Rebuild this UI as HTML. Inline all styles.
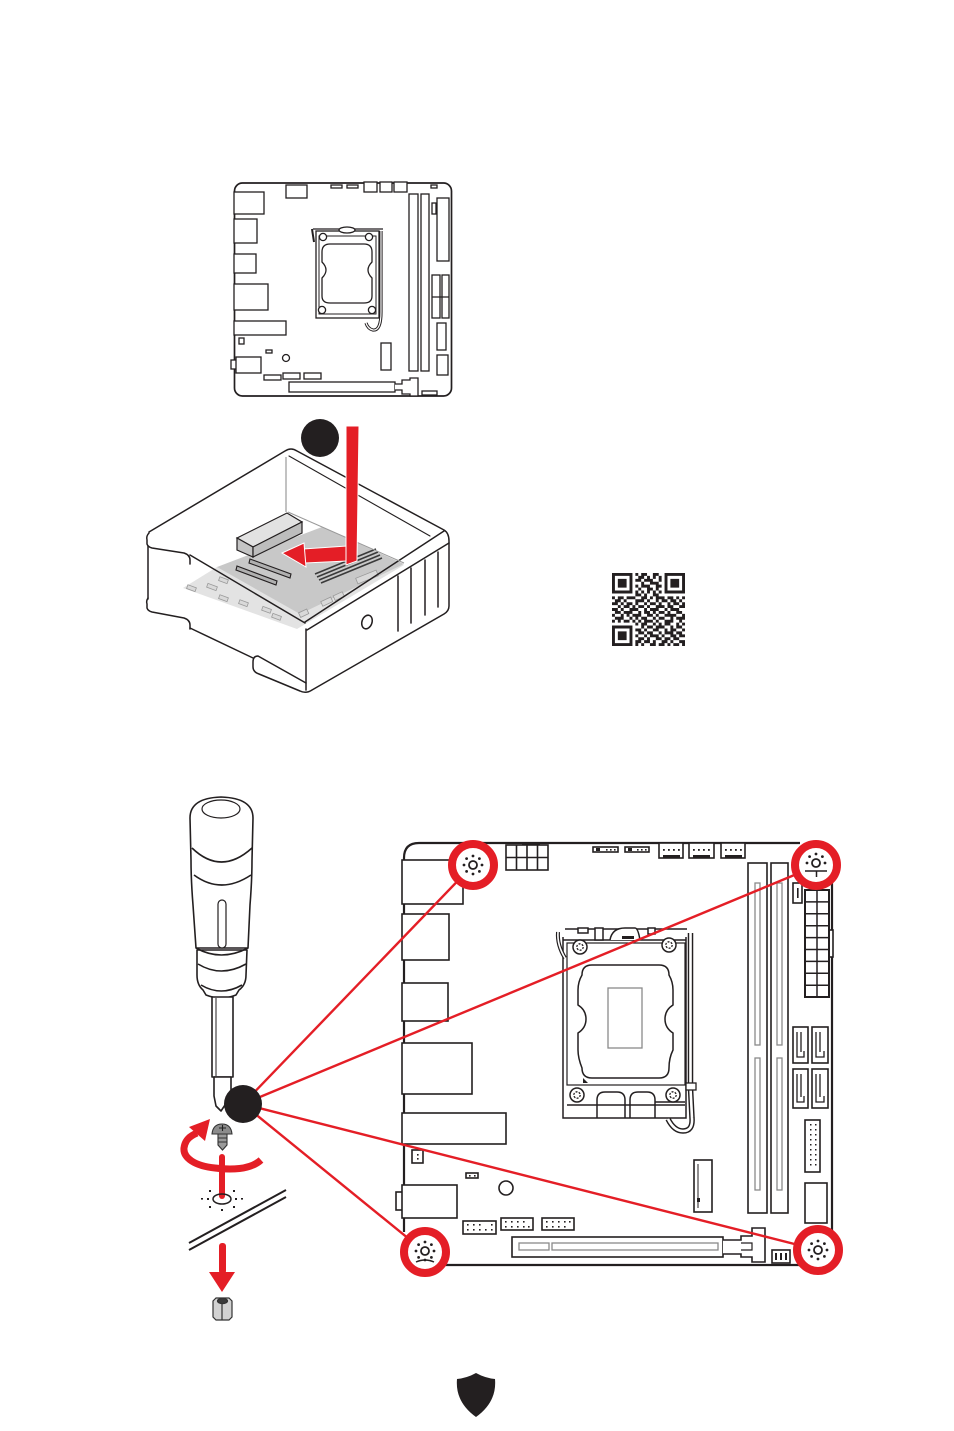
<!DOCTYPE html>
<html><head><meta charset="utf-8"><style>html,body{margin:0;padding:0;background:#fff}svg{display:block}</style></head>
<body>
<svg width="954" height="1431" viewBox="0 0 954 1431" xmlns="http://www.w3.org/2000/svg">
<rect width="954" height="1431" fill="#fff"/>

<!-- ============ TOP BOARD ============ -->
<g stroke="#231f20" stroke-width="1.3" fill="#fff">
<rect x="234.5" y="183" width="217" height="213" rx="8" stroke-width="1.7"/>
<rect x="234" y="192" width="30" height="22"/>
<rect x="234" y="219" width="23" height="24"/>
<rect x="234" y="254" width="22" height="19"/>
<rect x="234" y="284" width="34" height="26"/>
<rect x="234" y="321" width="52" height="14"/>
<rect x="239" y="338" width="5" height="6"/>
<rect x="231" y="360" width="7" height="9"/>
<rect x="236" y="357" width="25" height="16"/>
<rect x="266" y="350" width="6" height="3"/>
<circle cx="286" cy="358" r="3.5"/>
<rect x="264" y="375" width="17" height="5"/>
<rect x="283" y="373" width="17" height="6"/>
<rect x="304" y="373" width="17" height="6"/>
<rect x="289" y="382" width="106" height="10"/>
<path d="M395,384 H402 V380 H410 V378 H418 V396 H410 V394 H402 V390 H395"/>
<rect x="422" y="391" width="15" height="4"/>
<rect x="286" y="185" width="21" height="13"/>
<rect x="331" y="185" width="11" height="3"/>
<rect x="347" y="185" width="11" height="3"/>
<rect x="364" y="182" width="13" height="10"/>
<rect x="380" y="182" width="12" height="10"/>
<rect x="394" y="182" width="13" height="10"/>
<rect x="431" y="185" width="6" height="3"/>
<rect x="409" y="194" width="9" height="177"/>
<rect x="421" y="194" width="8" height="177"/>
<rect x="437" y="198" width="12" height="63"/>
<rect x="432" y="203" width="4" height="11"/>
<rect x="432" y="275" width="8" height="43"/>
<rect x="442" y="275" width="7" height="43"/>
<path d="M432,297 H449" fill="none"/>
<rect x="437" y="323" width="9" height="27"/>
<rect x="437" y="355" width="11" height="20"/>
<rect x="381" y="343" width="10" height="27"/>
<!-- socket -->
<path d="M313,229 H383" fill="none"/>
<rect x="316" y="231" width="63" height="87"/>
<rect x="319" y="236" width="57" height="78" stroke-width="1"/>
<ellipse cx="347" cy="230" rx="8" ry="3"/>
<path d="M330,244 L364,244 Q372,244 372,252 L372,262 Q368,266 368,270 Q368,274 372,278 L372,296 Q372,303 364,303 L330,303 Q322,303 322,296 L322,278 Q326,274 326,270 Q326,266 322,262 L322,252 Q322,244 330,244 Z"/>
<circle cx="323" cy="237" r="3.6"/><circle cx="369" cy="237" r="3.6"/>
<circle cx="322" cy="310" r="3.6"/><circle cx="372" cy="310" r="3.6"/>
<path d="M312,229 L314,242" fill="none" stroke-width="2"/>
<path d="M381,231 V312 Q381,331 373,330 Q368,329 366,323" fill="none" stroke-width="3.2"/>
<path d="M381,231 V312 Q381,331 373,330 Q368,329 366,323" fill="none" stroke="#fff" stroke-width="1.2"/>
</g>

<!-- ============ CASE ============ -->
<polygon points="183,588 297,629 404,565 217,567" fill="#e3e3e3"/>
<polygon points="217,567 300,614 404,564 322,527" fill="#c8c8c8"/>
<g fill="#d9d9d9" stroke="#999" stroke-width="0.8">
<rect x="187" y="586" width="9" height="4" transform="rotate(20 191 588)"/>
<rect x="207" y="585" width="10" height="4" transform="rotate(20 212 587)"/>
<rect x="219" y="578" width="9" height="4" transform="rotate(20 223 580)"/>
<rect x="219" y="596" width="9" height="4" transform="rotate(20 223 598)"/>
<rect x="239" y="601" width="9" height="4" transform="rotate(20 243 603)"/>
<rect x="262" y="608" width="9" height="4" transform="rotate(20 267 610)"/>
<rect x="272" y="615" width="9" height="4" transform="rotate(20 277 617)"/>
<rect x="299" y="611" width="9" height="5" transform="rotate(-25 303 613)"/>
<rect x="321" y="599" width="11" height="5" transform="rotate(-25 327 601)"/>
<rect x="334" y="594" width="10" height="5" transform="rotate(-25 338 597)"/>
<rect x="356" y="574" width="22" height="6" transform="rotate(-22 367 577)"/>
</g>
<g stroke="#231f20" stroke-width="1.1">
<polygon points="250,559 291,574 290,578 249,563" fill="#b0b0b0"/>
<polygon points="237,566 277,581 276,585 236,570" fill="#b0b0b0"/>
</g>
<g stroke="#3a3a3a" stroke-width="1.6">
<path d="M315,574 L376,549 M317,577 L378,552 M319,580 L380,555 M321,583 L382,558"/>
</g>
<!-- IO block -->
<g stroke="#231f20" stroke-width="1.2">
<polygon points="237,538 287,513 302,522 253,547" fill="#e2e2e2"/>
<polygon points="237,538 253,547 253,557 237,550" fill="#c4c4c4"/>
<polygon points="253,547 302,522 302,533 253,557" fill="#bdbdbd"/>
</g>
<g fill="none" stroke="#231f20" stroke-width="1.5" stroke-linejoin="round" stroke-linecap="round">
<path d="M149,532 L285,451 Q291,447 297,451 L444,530 Q449,533 449,541 V606 Q449,611 444,614 L312,690 Q306,694 300,691 L259,674 Q253,672 253,667 V662 Q253,656 258,656 L306,683"/>
<path d="M306,629 V690"/>
<path d="M449,543 L307,630"/>
<path d="M444,531 L305,622"/>
<path d="M305,623 L190,555"/>
<path d="M149,533 Q146,536 147,540 V544 Q148,547 152,548 L184,553 Q190,555 190,560 V564"/>
<path d="M148,546 V599"/>
<path d="M148,598 Q146,601 147,604 V608 Q148,611 152,612 L184,618 Q190,620 190,625 V629"/>
<path d="M190,628 L253,658"/>
<path d="M398,576 V631 M411,568 V623 M425,560 V615 M438,552 V607"/>
<ellipse cx="367" cy="622" rx="5" ry="7" transform="rotate(20 367 622)"/>
<path d="M289,456 L430,536" stroke-width="1.1"/>
</g>
<path d="M286,457 V512" stroke="#9a9a9a" stroke-width="1.2"/>
<path d="M288,512 L404,563" stroke="#9a9a9a" stroke-width="1"/>
<!-- red arrows -->
<g fill="#e41e26" stroke="#fff" stroke-width="1">
<polygon points="303,549 347,546 347,561 305,563"/>
<polygon points="282,553 304,543 306,567"/>
<polygon points="346,426 359,426 357,561 346,565"/>
</g>
<circle cx="320" cy="438" r="19" fill="#231f20"/>

<!-- ============ QR ============ -->
<g transform="translate(612,573) scale(2.92)" fill="#231f20">
<path d="M0 0h7v1H0zM8 0h1v1H8zM10 0h2v1h-2zM14 0h2v1h-2zM18 0h7v1h-7z
M0 1h1v1H0zM6 1h1v1H6zM9 1h2v1H9zM12 1h1v1h-1zM14 1h1v1h-1zM16 1h1v1h-1zM18 1h1v1h-1zM24 1h1v1h-1z
M0 2h1v1H0zM2 2h3v1H2zM6 2h1v1H6zM8 2h2v1H8zM11 2h3v1h-3zM16 2h1v1h-1zM18 2h1v1h-1zM20 2h3v1h-3zM24 2h1v1h-1z
M0 3h1v1H0zM2 3h3v1H2zM6 3h1v1H6zM10 3h1v1h-1zM13 3h3v1h-3zM18 3h1v1h-1zM20 3h3v1h-3zM24 3h1v1h-1z
M0 4h1v1H0zM2 4h3v1H2zM6 4h1v1H6zM8 4h1v1H8zM10 4h3v1h-3zM15 4h2v1h-2zM18 4h1v1h-1zM20 4h3v1h-3zM24 4h1v1h-1z
M0 5h1v1H0zM6 5h1v1H6zM9 5h1v1H9zM12 5h2v1h-2zM15 5h1v1h-1zM18 5h1v1h-1zM24 5h1v1h-1z
M0 6h7v1H0zM8 6h1v1H8zM10 6h1v1h-1zM12 6h1v1h-1zM14 6h1v1h-1zM16 6h1v1h-1zM18 6h7v1h-7z
M8 7h2v1H8zM11 7h1v1h-1zM14 7h2v1h-2z
M0 8h1v1H0zM2 8h2v1H2zM5 8h3v1H5zM10 8h2v1h-2zM13 8h1v1h-1zM15 8h3v1h-3zM19 8h2v1h-2zM22 8h1v1h-1zM24 8h1v1h-1z
M1 9h2v1H1zM4 9h1v1H4zM8 9h3v1H8zM12 9h1v1h-1zM15 9h1v1h-1zM17 9h2v1h-2zM20 9h2v1h-2zM23 9h1v1h-1z
M0 10h2v1H0zM3 10h1v1H3zM5 10h2v1H5zM8 10h1v1H8zM11 10h1v1h-1zM13 10h2v1h-2zM16 10h1v1h-1zM19 10h1v1h-1zM21 10h2v1h-2zM24 10h1v1h-1z
M2 11h1v1H2zM4 11h2v1H4zM7 11h1v1H7zM9 11h2v1H9zM12 11h1v1h-1zM15 11h3v1h-3zM19 11h2v1h-2zM23 11h2v1h-2z
M0 12h2v1H0zM3 12h1v1H3zM6 12h3v1H6zM11 12h1v1h-1zM13 12h3v1h-3zM18 12h1v1h-1zM20 12h3v1h-3z
M1 13h2v1H1zM4 13h3v1H4zM9 13h1v1H9zM11 13h2v1h-2zM14 13h1v1h-1zM16 13h2v1h-2zM19 13h1v1h-1zM22 13h2v1h-2z
M0 14h1v1H0zM3 14h1v1H3zM5 14h1v1H5zM7 14h3v1H7zM12 14h2v1h-2zM15 14h1v1h-1zM18 14h4v1h-4zM24 14h1v1h-1z
M1 15h3v1H1zM6 15h1v1H6zM8 15h1v1H8zM10 15h2v1h-2zM14 15h1v1h-1zM16 15h2v1h-2zM20 15h1v1h-1zM22 15h3v1h-3z
M0 16h1v1H0zM2 16h1v1H2zM4 16h2v1H4zM7 16h1v1H7zM9 16h1v1H9zM11 16h3v1h-3zM15 16h1v1h-1zM18 16h3v1h-3zM23 16h1v1h-1z
M8 17h1v1H8zM10 17h2v1h-2zM14 17h1v1h-1zM16 17h1v1h-1zM18 17h2v1h-2zM22 17h1v1h-1zM24 17h1v1h-1z
M0 18h7v1H0zM10 18h1v1h-1zM12 18h2v1h-2zM15 18h3v1h-3zM20 18h1v1h-1zM22 18h2v1h-2z
M0 19h1v1H0zM6 19h1v1H6zM8 19h2v1H8zM11 19h1v1h-1zM14 19h2v1h-2zM18 19h1v1h-1zM20 19h2v1h-2zM24 19h1v1h-1z
M0 20h1v1H0zM2 20h3v1H2zM6 20h1v1H6zM9 20h2v1H9zM12 20h2v1h-2zM16 20h1v1h-1zM18 20h3v1h-3zM22 20h2v1h-2z
M0 21h1v1H0zM2 21h3v1H2zM6 21h1v1H6zM8 21h1v1H8zM11 21h1v1h-1zM13 21h3v1h-3zM17 21h1v1h-1zM20 21h2v1h-2zM23 21h2v1h-2z
M0 22h1v1H0zM2 22h3v1H2zM6 22h1v1H6zM9 22h2v1H9zM12 22h1v1h-1zM15 22h2v1h-2zM18 22h2v1h-2zM21 22h2v1h-2z
M0 23h1v1H0zM6 23h1v1H6zM8 23h2v1H8zM11 23h2v1h-2zM14 23h1v1h-1zM17 23h2v1h-2zM20 23h1v1h-1zM23 23h2v1h-2z
M0 24h7v1H0zM8 24h1v1H8zM10 24h1v1h-1zM13 24h2v1h-2zM16 24h2v1h-2zM19 24h1v1h-1zM21 24h2v1h-2zM24 24h1v1h-1z"/>
</g>

<!-- ============ BOTTOM BOARD ============ -->
<g stroke="#231f20" stroke-width="1.6" fill="#fff">
<path d="M404,1232 V858 Q404,843 419,843 H800 M832,878 V1232 M440,1265 H800" fill="none" stroke-width="2.2"/>
<rect x="402" y="860" width="61" height="44"/>
<rect x="402" y="914" width="47" height="46"/>
<rect x="402" y="983" width="46" height="38"/>
<rect x="402" y="1043" width="70" height="51"/>
<rect x="402" y="1113" width="104" height="31"/>
<rect x="412" y="1150" width="11" height="13"/>
<rect x="466" y="1173" width="12" height="5"/>
<circle cx="506" cy="1188" r="7"/>
<rect x="396" y="1192" width="8" height="18"/>
<rect x="402" y="1185" width="55" height="33"/>
<rect x="463" y="1221" width="33" height="13"/>
<rect x="501" y="1218" width="32" height="12"/>
<rect x="542" y="1218" width="32" height="12"/>
<rect x="512" y="1237" width="211" height="20"/>
<path d="M723,1240 H741 V1236 H752 V1228 H765 V1262 H752 V1257 H741 V1254 H723" />
<path d="M741,1243 H752 V1250 H741" fill="none" stroke-width="1.2"/>
<rect x="772" y="1250" width="18" height="13"/>
<rect x="506" y="845" width="42" height="25"/>
<path d="M516.5,845 V870 M527,845 V870 M537.5,845 V870 M506,857.5 H548" fill="none"/>
<rect x="593" y="847" width="25" height="5"/>
<rect x="625" y="847" width="24" height="5"/>
<rect x="659" y="843" width="24" height="15"/>
<rect x="689" y="843" width="25" height="15"/>
<rect x="721" y="843" width="24" height="15"/>
<rect x="748" y="863" width="19" height="350"/>
<rect x="771" y="863" width="17" height="350"/>
<rect x="793" y="883" width="9" height="20"/>
<rect x="829" y="930" width="4" height="27"/>
<rect x="805" y="890" width="24" height="107" stroke-width="2"/>
<path d="M817,890 V997 M805,901.9 H829 M805,913.8 H829 M805,925.7 H829 M805,937.6 H829 M805,949.5 H829 M805,961.4 H829 M805,973.3 H829 M805,985.2 H829" fill="none" stroke-width="1.5"/>
<rect x="793" y="1027" width="15" height="36"/>
<rect x="812" y="1027" width="16" height="36"/>
<rect x="793" y="1069" width="15" height="39"/>
<rect x="812" y="1069" width="16" height="39"/>
<path d="M797,1032 V1057 H804 V1051 M801,1032 V1052 M816,1032 V1057 H824 V1051 M820,1032 V1052 M797,1074 V1102 H804 V1096 M801,1074 V1097 M816,1074 V1102 H824 V1096 M820,1074 V1097" fill="none" stroke-width="1.3"/>
<rect x="805" y="1120" width="15" height="52"/>
<rect x="805" y="1183" width="22" height="40"/>
<rect x="694" y="1160" width="18" height="52"/>
<path d="M698,1164 V1208" fill="none" stroke-width="1"/>
</g>
<g fill="none" stroke="#8a8a8a" stroke-width="1.3">
<rect x="519" y="1243" width="30" height="7"/>
<rect x="552" y="1243" width="166" height="7"/>
<rect x="755" y="883" width="5" height="162"/>
<rect x="755" y="1058" width="5" height="132"/>
<rect x="777" y="883" width="5" height="162"/>
<rect x="777" y="1058" width="5" height="132"/>
<rect x="608" y="988" width="34" height="60"/>
</g>
<!-- header pins / dots -->
<g fill="#231f20">
<rect x="596" y="848" width="4" height="3"/><rect x="606" y="849" width="1.6" height="1.6"/><rect x="610" y="849" width="1.6" height="1.6"/><rect x="614" y="849" width="1.6" height="1.6"/>
<rect x="628" y="848" width="4" height="3"/><rect x="637" y="849" width="1.6" height="1.6"/><rect x="641" y="849" width="1.6" height="1.6"/><rect x="645" y="849" width="1.6" height="1.6"/>
<rect x="663" y="849" width="1.8" height="1.8"/><rect x="668" y="849" width="1.8" height="1.8"/><rect x="673" y="849" width="1.8" height="1.8"/><rect x="678" y="849" width="1.8" height="1.8"/><rect x="663" y="855" width="17" height="3"/>
<rect x="693" y="849" width="1.8" height="1.8"/><rect x="698" y="849" width="1.8" height="1.8"/><rect x="703" y="849" width="1.8" height="1.8"/><rect x="708" y="849" width="1.8" height="1.8"/><rect x="693" y="855" width="17" height="3"/>
<rect x="725" y="849" width="1.8" height="1.8"/><rect x="730" y="849" width="1.8" height="1.8"/><rect x="735" y="849" width="1.8" height="1.8"/><rect x="740" y="849" width="1.8" height="1.8"/><rect x="725" y="855" width="17" height="3"/>
<rect x="417" y="1154" width="1.6" height="1.6"/><rect x="417" y="1158" width="1.6" height="1.6"/>
<rect x="469" y="1175" width="1.6" height="1.6"/><rect x="474" y="1175" width="1.6" height="1.6"/>
<rect x="467" y="1224" width="1.6" height="1.6"/><rect x="467" y="1229" width="1.6" height="1.6"/><rect x="473" y="1224" width="1.6" height="1.6"/><rect x="473" y="1229" width="1.6" height="1.6"/><rect x="479" y="1224" width="1.6" height="1.6"/><rect x="479" y="1229" width="1.6" height="1.6"/><rect x="485" y="1229" width="1.6" height="1.6"/><rect x="491" y="1224" width="1.6" height="1.6"/><rect x="491" y="1229" width="1.6" height="1.6"/>
<rect x="505" y="1221" width="1.6" height="1.6"/><rect x="505" y="1226" width="1.6" height="1.6"/><rect x="511" y="1221" width="1.6" height="1.6"/><rect x="511" y="1226" width="1.6" height="1.6"/><rect x="517" y="1221" width="1.6" height="1.6"/><rect x="517" y="1226" width="1.6" height="1.6"/><rect x="523" y="1221" width="1.6" height="1.6"/><rect x="523" y="1226" width="1.6" height="1.6"/><rect x="528" y="1226" width="1.6" height="1.6"/>
<rect x="546" y="1221" width="1.6" height="1.6"/><rect x="546" y="1226" width="1.6" height="1.6"/><rect x="552" y="1221" width="1.6" height="1.6"/><rect x="552" y="1226" width="1.6" height="1.6"/><rect x="558" y="1221" width="1.6" height="1.6"/><rect x="558" y="1226" width="1.6" height="1.6"/><rect x="564" y="1221" width="1.6" height="1.6"/><rect x="564" y="1226" width="1.6" height="1.6"/><rect x="569" y="1221" width="1.6" height="1.6"/>
<rect x="775" y="1253" width="2" height="7"/><rect x="780" y="1253" width="2" height="7"/><rect x="785" y="1253" width="2" height="7"/>
<rect x="810" y="1124" width="1.5" height="1.5"/><rect x="810" y="1129" width="1.5" height="1.5"/><rect x="810" y="1134" width="1.5" height="1.5"/><rect x="810" y="1139" width="1.5" height="1.5"/><rect x="810" y="1144" width="1.5" height="1.5"/><rect x="810" y="1149" width="1.5" height="1.5"/><rect x="810" y="1154" width="1.5" height="1.5"/><rect x="810" y="1159" width="1.5" height="1.5"/><rect x="810" y="1164" width="1.5" height="1.5"/>
<rect x="815" y="1124" width="1.5" height="1.5"/><rect x="815" y="1129" width="1.5" height="1.5"/><rect x="815" y="1134" width="1.5" height="1.5"/><rect x="815" y="1139" width="1.5" height="1.5"/><rect x="815" y="1144" width="1.5" height="1.5"/><rect x="815" y="1149" width="1.5" height="1.5"/><rect x="815" y="1154" width="1.5" height="1.5"/><rect x="815" y="1159" width="1.5" height="1.5"/><rect x="815" y="1164" width="1.5" height="1.5"/>
<rect x="797" y="888" width="1.6" height="10"/>
<rect x="697" y="1198" width="3" height="4"/>
<rect x="522" y="842" width="18" height="3"/>
</g>
<!-- CPU socket -->
<g stroke="#231f20" stroke-width="1.5" fill="none">
<path d="M563,937 V1118 H686 V937"/>
<path d="M565,929 H687 M563,940 H686"/>
<rect x="578" y="928" width="10" height="5" fill="#fff"/>
<rect x="595" y="928" width="8" height="12" fill="#fff"/>
<path d="M610,940 Q612,928 625,928 L635,928 Q638,928 640,940" fill="#fff"/>
<rect x="648" y="928" width="7" height="6" fill="#fff"/>
<rect x="567" y="943" width="118" height="142" stroke-width="1.2"/>
<path d="M592,965 H659 Q669,965 669,975 Q673,982 673,990 V1005 Q665,1010 665,1019 Q665,1028 673,1033 V1050 Q669,1058 669,1068 Q669,1078 659,1078 H592 Q582,1078 582,1068 Q578,1058 578,1050 V1033 Q586,1028 586,1019 Q586,1010 578,1005 V990 Q578,982 582,975 Q582,965 592,965 Z"/>
<path d="M597,1118 V1100 Q597,1092 605,1092 H617 Q625,1092 625,1100 V1118 M630,1118 V1100 Q630,1092 638,1092 H647 Q655,1092 655,1100 V1118"/>
<path d="M567,1105 H685 M655,1102 H685"/>
<circle cx="580" cy="947" r="7" fill="#fff"/><circle cx="669" cy="945" r="7" fill="#fff"/>
<circle cx="577" cy="1095" r="7" fill="#fff"/><circle cx="673" cy="1095" r="7" fill="#fff"/>
<g stroke-dasharray="2 1.3" stroke-width="1.3">
<circle cx="580" cy="947" r="3.2"/><circle cx="669" cy="945" r="3.2"/>
<circle cx="577" cy="1095" r="3.2"/><circle cx="673" cy="1095" r="3.2"/>
</g>
<path d="M558,932 Q557,945 565,958" stroke-width="4"/>
<path d="M690.5,933 V1088 L692,1118 Q693,1131 683,1131 Q674,1131 668,1119" stroke-width="5.5"/>
</g>
<g fill="none" stroke="#fff">
<path d="M558,932 Q557,945 565,958" stroke-width="1.6"/>
<path d="M690.5,933 V1088 L692,1118 Q693,1131 683,1131 Q674,1131 668,1119" stroke-width="2.6"/>
</g>
<rect x="686" y="1083" width="10" height="7" fill="#fff" stroke="#231f20" stroke-width="1.3"/>
<rect x="622" y="936" width="12" height="3" fill="#231f20"/>
<path d="M583,1078 L588,1083 L583,1083 Z" fill="#231f20"/>

<!-- ============ SCREWDRIVER ============ -->
<g fill="#fff" stroke="#231f20" stroke-width="1.6" stroke-linejoin="round">
<path d="M196,948 L193,905 Q191,880 191,860 L190,818 Q190,798 221,797 Q253,798 253,818 L252,860 Q252,880 250,905 L248,948 Z"/>
<ellipse cx="221" cy="809" rx="19" ry="9" fill="none" stroke-width="1.2"/>
<path d="M192,848 Q221,876 252,848" fill="none"/>
<path d="M194,875 Q221,895 251,875" fill="none"/>
<rect x="218" y="900" width="8" height="48" rx="4" stroke-width="1.2"/>
<path d="M197,950 L197,975 Q197,985 203,990 L206,995 Q221,1001 236,995 L239,990 Q246,985 246,975 L247,950 Z"/>
<path d="M196,948 Q221,962 248,948" fill="none"/>
<path d="M198,964 Q221,978 246,964" fill="none"/>
<path d="M201,985 Q221,997 242,985" fill="none"/>
<rect x="212" y="997" width="21" height="80"/>
<path d="M216,998 V1076" fill="none" stroke-width="1"/>
<path d="M214,1077 H231 V1096 L221,1111 L216,1106 L214,1096 Z"/>
</g>

<!-- red connector lines -->
<g stroke="#e41e26" stroke-width="2.4">
<line x1="243" y1="1104" x2="473" y2="865"/>
<line x1="243" y1="1104" x2="816" y2="866"/>
<line x1="243" y1="1104" x2="425" y2="1252"/>
<line x1="243" y1="1104" x2="818" y2="1250"/>
</g>
<!-- red hole circles -->
<g fill="#fff" stroke="#e41e26" stroke-width="8">
<circle cx="473" cy="865" r="21"/>
<circle cx="816" cy="865" r="21"/>
<circle cx="425" cy="1252" r="21"/>
<circle cx="818" cy="1250" r="21"/>
</g>
<!-- hole icons -->
<g fill="none" stroke="#231f20" stroke-width="1.8">
<circle cx="473" cy="865" r="4"/>
<circle cx="816" cy="863" r="4"/>
<circle cx="425" cy="1251" r="4"/>
<circle cx="818" cy="1250" r="4"/>
<path d="M805,871 H827 M816.5,871 V877" stroke-width="1.5"/>
<path d="M416,1262 Q425,1258 434,1262" stroke-width="1.5"/>
</g>
<g fill="#231f20">
<circle cx="482" cy="865" r="1.4"/><circle cx="479.4" cy="871.4" r="1.4"/><circle cx="473" cy="874" r="1.4"/><circle cx="466.6" cy="871.4" r="1.4"/><circle cx="464" cy="865" r="1.4"/><circle cx="466.6" cy="858.6" r="1.4"/><circle cx="473" cy="856" r="1.4"/><circle cx="479.4" cy="858.6" r="1.4"/>
<circle cx="825" cy="863" r="1.4"/><circle cx="807" cy="863" r="1.4"/><circle cx="809.6" cy="856.6" r="1.4"/><circle cx="816" cy="854" r="1.4"/><circle cx="822.4" cy="856.6" r="1.4"/>
<circle cx="434" cy="1251" r="1.4"/><circle cx="431.4" cy="1257.4" r="1.4"/><circle cx="425" cy="1260" r="1.4"/><circle cx="418.6" cy="1257.4" r="1.4"/><circle cx="416" cy="1251" r="1.4"/><circle cx="418.6" cy="1244.6" r="1.4"/><circle cx="425" cy="1242" r="1.4"/><circle cx="431.4" cy="1244.6" r="1.4"/>
<circle cx="827" cy="1250" r="1.4"/><circle cx="824.4" cy="1256.4" r="1.4"/><circle cx="818" cy="1259" r="1.4"/><circle cx="811.6" cy="1256.4" r="1.4"/><circle cx="809" cy="1250" r="1.4"/><circle cx="811.6" cy="1243.6" r="1.4"/><circle cx="818" cy="1241" r="1.4"/><circle cx="824.4" cy="1243.6" r="1.4"/>
</g>
<circle cx="243" cy="1104" r="19" fill="#231f20"/>

<!-- screw, arrows, standoff -->
<path d="M222,1157 V1196" stroke="#e41e26" stroke-width="6" stroke-linecap="round"/>
<path d="M261,1160 C250,1170 230,1170 215,1168 C195,1166 183,1158 184,1148 C185,1140 190,1136 197,1133" fill="none" stroke="#e41e26" stroke-width="7"/>
<polygon points="210,1119 189,1127 205,1141" fill="#e41e26"/>
<g stroke="#333" stroke-width="1.1">
<path d="M212,1134 Q213,1124 222,1124 Q231,1124 232,1134 Z" fill="#8c8c8c"/>
<path d="M218,1134 H227 V1145 L222.5,1150 L218,1145 Z" fill="#9a9a9a"/>
<path d="M218,1138 H227 M218,1142 H227" fill="none"/>
<path d="M219,1128 H226 M222.5,1125 V1131" fill="none" stroke="#222"/>
</g>
<ellipse cx="222" cy="1199" rx="9" ry="5" fill="none" stroke="#231f20" stroke-width="1.5"/>
<g fill="#231f20">
<rect x="207" y="1198" width="2" height="2"/><rect x="235" y="1198" width="2" height="2"/>
<rect x="209" y="1190" width="2" height="2"/><rect x="233" y="1190" width="2" height="2"/>
<rect x="209" y="1206" width="2" height="2"/><rect x="233" y="1206" width="2" height="2"/>
<rect x="221" y="1209" width="2" height="2"/><rect x="201" y="1198" width="2" height="1.6"/><rect x="241" y="1198" width="2" height="1.6"/>
</g>
<path d="M189,1243 L286,1190 M189,1250 L286,1197" stroke="#231f20" stroke-width="2"/>
<rect x="219" y="1243" width="7" height="31" rx="3" fill="#e41e26"/>
<polygon points="209,1272 235,1272 222,1292" fill="#e41e26"/>
<g stroke="#333" stroke-width="1.2">
<path d="M213,1301 L216,1298 H229 L232,1301 V1317 L229,1320 H216 L213,1317 Z" fill="#d2d2d2"/>
<path d="M222,1304 V1320" fill="none"/>
<ellipse cx="222.5" cy="1301" rx="5" ry="2.6" fill="#3a3a3a"/>
</g>

<!-- shield -->
<path d="M476,1373 Q485,1378 495,1379 Q497,1402 476,1417 Q455,1402 457,1379 Q467,1378 476,1373 Z" fill="#231f20"/>
</svg>
</body></html>
